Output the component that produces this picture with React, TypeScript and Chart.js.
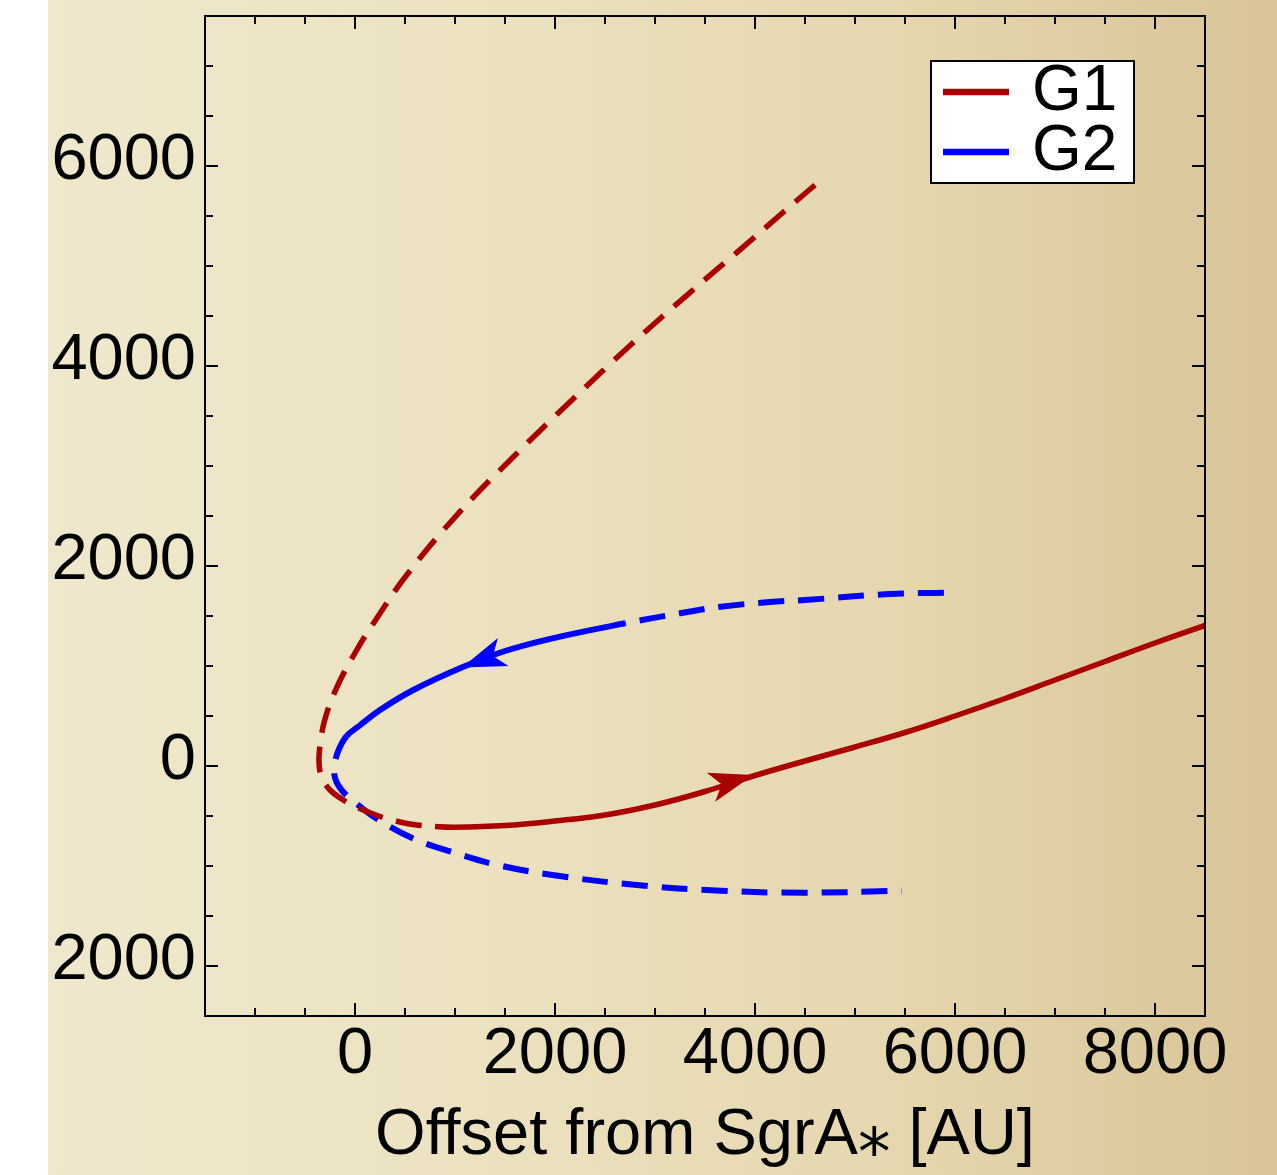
import React, { useEffect, useRef } from 'react';
import { Chart, registerables } from 'chart.js';

Chart.register(...registerables);

// ---- data (AU) ----
const g1X = [4600, 4250, 3944, 3341, 2756, 2170, 1585, 1034, 517, 200, 0, -180, -300, -350, -360, -330, -250, -133, 0, 223, 450, 617, 800, 1000, 1500, 2000, 2500, 3000, 3500, 4000, 4500, 5000, 5500, 6000, 6500, 7000, 7500, 8000, 8600];
const g1Y = [5810, 5510, 5243, 4727, 4210, 3660, 3093, 2527, 1910, 1450, 1130, 790, 470, 200, 30, -120, -240, -330, -405, -495, -560, -590, -605, -612, -595, -550, -490, -390, -255, -95, 50, 190, 335, 500, 675, 860, 1045, 1230, 1440];
const g1SolidFrom = 22;

const g2X = [5889, 5342, 4500, 4150, 3659, 3250, 2700, 1975, 1500, 1067, 583, 250, 40, -83, -160, -200, -210, -185, -130, -60, 10, 250, 617, 983, 1383, 1975, 2817, 3659, 4500, 5468];
const g2Y = [1733, 1720, 1660, 1640, 1593, 1527, 1427, 1277, 1150, 985, 760, 560, 400, 300, 170, 40, -60, -160, -245, -315, -375, -547, -740, -863, -980, -1090, -1190, -1247, -1267, -1247];
const g2SolidFrom = 6;
const g2SolidTo = 13;

// arrow heads: tip and a point behind it on the orbit (direction of travel)
const arrowTipX = [3983, 1070];
const arrowTipY = [-90, 985];
const arrowBackX = [3600, 1450];
const arrowBackY = [-201, 1128];

const seriesLabels = ['G1', 'G2'];
const seriesColors = ['#aa0000', '#0000ff'];

const xTicks = [0, 2000, 4000, 6000, 8000];
const xTickLabels = ['0', '2000', '4000', '6000', '8000'];
const yTicks = [-2000, 0, 2000, 4000, 6000];
const yTickLabels = ['2000', '0', '2000', '4000', '6000'];
const xTitle = 'Offset from SgrA\u204E [AU]';

const FONT = "'Liberation Sans', Arial, 'DejaVu Sans', sans-serif";
const DASH = [26, 14];

const bgPlugin = {
  id: 'bg',
  beforeDraw(chart: any) {
    const { ctx, width, height } = chart;
    ctx.save();
    ctx.fillStyle = '#ffffff';
    ctx.fillRect(0, 0, width, height);
    const g = ctx.createLinearGradient(48, 0, width, 0);
    g.addColorStop(0, '#efe8cd');
    g.addColorStop(0.35, '#ece2c0');
    g.addColorStop(0.7, '#e5d6ae');
    g.addColorStop(1, '#d8c497');
    ctx.fillStyle = g;
    ctx.fillRect(48, 0, width - 48, height);
    ctx.restore();
  },
};

const decorPlugin = {
  id: 'decor',
  afterDatasetsDraw(chart: any) {
    const { ctx, chartArea } = chart;
    const xs = chart.scales.x;
    const ys = chart.scales.y;
    ctx.save();
    ctx.beginPath();
    ctx.rect(chartArea.left, chartArea.top, chartArea.right - chartArea.left, chartArea.bottom - chartArea.top);
    ctx.clip();
    for (let i = 0; i < arrowTipX.length; i++) {
      const tx = xs.getPixelForValue(arrowTipX[i]);
      const ty = ys.getPixelForValue(arrowTipY[i]);
      const bx = xs.getPixelForValue(arrowBackX[i]);
      const by = ys.getPixelForValue(arrowBackY[i]);
      const len = Math.hypot(tx - bx, ty - by);
      const ux = (tx - bx) / len;
      const uy = (ty - by) / len;
      const L = 44, W = 15, N = 11;
      const cx = tx - ux * L, cy = ty - uy * L;
      const nx = -uy, ny = ux;
      ctx.beginPath();
      ctx.moveTo(tx, ty);
      ctx.lineTo(cx + nx * W, cy + ny * W);
      ctx.lineTo(tx - ux * (L - N), ty - uy * (L - N));
      ctx.lineTo(cx - nx * W, cy - ny * W);
      ctx.closePath();
      ctx.fillStyle = chart.data.datasets[i].borderColor;
      ctx.fill();
    }
    ctx.restore();
  },
  afterDraw(chart: any) {
    const { ctx, chartArea } = chart;
    const xs = chart.scales.x;
    const ys = chart.scales.y;
    const { left, right, top, bottom } = chartArea;
    ctx.save();
    ctx.strokeStyle = '#000';
    ctx.lineWidth = 2;
    ctx.strokeRect(left, top, right - left, bottom - top);
    ctx.beginPath();
    for (let v = Math.ceil(xs.min / 500) * 500; v <= xs.max; v += 500) {
      const p = xs.getPixelForValue(v);
      const l = v % 2000 === 0 ? 13 : 8;
      ctx.moveTo(p, bottom); ctx.lineTo(p, bottom - l);
      ctx.moveTo(p, top); ctx.lineTo(p, top + l);
    }
    for (let v = Math.ceil(ys.min / 500) * 500; v <= ys.max; v += 500) {
      const p = ys.getPixelForValue(v);
      const l = v % 2000 === 0 ? 13 : 8;
      ctx.moveTo(left, p); ctx.lineTo(left + l, p);
      ctx.moveTo(right, p); ctx.lineTo(right - l, p);
    }
    ctx.stroke();

    // legend
    const bx = 931, by = 61, bw = 203, bh = 122;
    ctx.fillStyle = '#ffffff';
    ctx.fillRect(bx, by, bw, bh);
    ctx.lineWidth = 2;
    ctx.strokeRect(bx, by, bw, bh);
    chart.data.datasets.forEach((ds: any, i: number) => {
      const yy = 92 + i * 60;
      ctx.strokeStyle = ds.borderColor;
      ctx.lineWidth = 6.5;
      ctx.beginPath();
      ctx.moveTo(943, yy);
      ctx.lineTo(1009, yy);
      ctx.stroke();
      ctx.fillStyle = '#000';
      ctx.font = `64px ${FONT}`;
      ctx.textAlign = 'left';
      ctx.textBaseline = 'middle';
      ctx.fillText(ds.label, 1032, yy);
    });
    ctx.restore();
  },
};

export default function App() {
  const ref = useRef<HTMLCanvasElement>(null);
  useEffect(() => {
    const canvas = ref.current!;
    const g1 = g1X.map((x, i) => ({ x, y: g1Y[i] }));
    const g2 = g2X.map((x, i) => ({ x, y: g2Y[i] }));
    const chart = new Chart(canvas, {
      type: 'scatter',
      data: {
        datasets: [
          {
            label: seriesLabels[0],
            data: g1,
            showLine: true,
            borderColor: seriesColors[0],
            backgroundColor: seriesColors[0],
            borderWidth: 5.5,
            pointRadius: 0,
            pointHoverRadius: 0,
            tension: 0.4,
            segment: {
              borderDash: (c: any) => (c.p0DataIndex < g1SolidFrom ? DASH : undefined),
            },
          } as any,
          {
            label: seriesLabels[1],
            data: g2,
            showLine: true,
            borderColor: seriesColors[1],
            backgroundColor: seriesColors[1],
            borderWidth: 6,
            pointRadius: 0,
            pointHoverRadius: 0,
            tension: 0.4,
            segment: {
              borderDash: (c: any) =>
                c.p0DataIndex >= g2SolidFrom && c.p0DataIndex < g2SolidTo ? undefined : DASH,
            },
          } as any,
        ],
      },
      options: {
        animation: false,
        responsive: false,
        devicePixelRatio: 1,
        events: [],
        layout: { padding: { left: 0, top: 16, right: 72, bottom: 0 } },
        plugins: { legend: { display: false }, tooltip: { enabled: false } },
        scales: {
          x: {
            type: 'linear',
            min: -1500,
            max: 8500,
            grid: { display: false, drawTicks: false },
            border: { display: false },
            afterBuildTicks: (s: any) => { s.ticks = xTicks.map((v) => ({ value: v })); },
            afterFit: (s: any) => { s.height = 159; s.paddingLeft = 0; s.paddingRight = 0; },
            ticks: {
              autoSkip: false,
              maxRotation: 0,
              padding: 0,
              color: '#000',
              font: { family: FONT, size: 65 },
              callback: (v: any) => { const i = xTicks.indexOf(Number(v)); return i >= 0 ? xTickLabels[i] : ''; },
            },
            title: {
              display: true,
              text: xTitle,
              color: '#000',
              padding: 0,
              font: { family: FONT, size: 65 },
            },
          },
          y: {
            type: 'linear',
            min: -2500,
            max: 7500,
            grid: { display: false, drawTicks: false },
            border: { display: false },
            afterBuildTicks: (s: any) => { s.ticks = yTicks.map((v) => ({ value: v })); },
            afterFit: (s: any) => { s.width = 205; s.paddingTop = 0; s.paddingBottom = 0; },
            ticks: {
              autoSkip: false,
              padding: 9,
              labelOffset: -5,
              color: '#000',
              font: { family: FONT, size: 65 },
              callback: (v: any) => { const i = yTicks.indexOf(Number(v)); return i >= 0 ? yTickLabels[i] : ''; },
            },
          },
        },
      } as any,
      plugins: [bgPlugin, decorPlugin],
    });
    return () => chart.destroy();
  }, []);
  return (
    <canvas
      ref={ref}
      width={1277}
      height={1175}
      style={{ position: 'absolute', left: 0, top: 0, display: 'block' }}
    />
  );
}
